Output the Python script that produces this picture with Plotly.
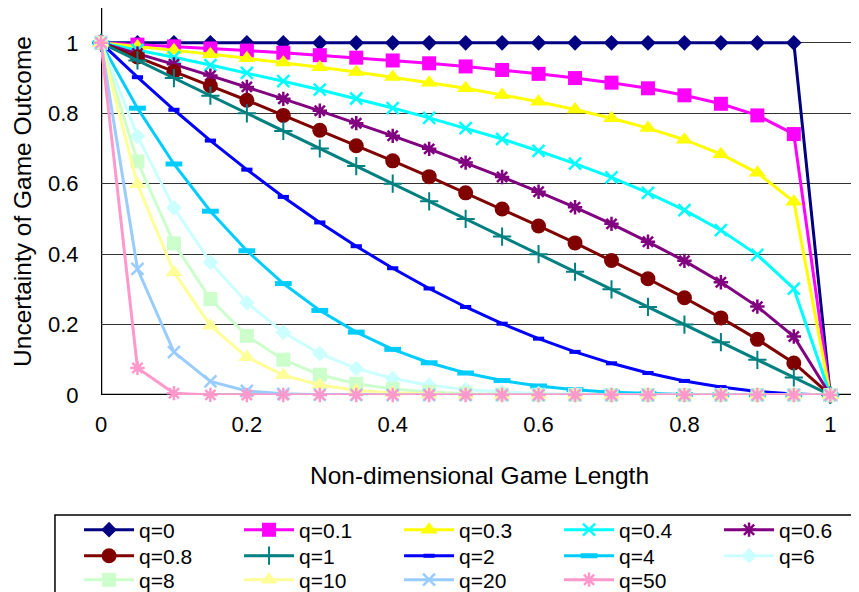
import plotly.graph_objects as go

x_vals = [0, 0.05, 0.1, 0.15, 0.2, 0.25, 0.3, 0.35, 0.4, 0.45, 0.5,
          0.55, 0.6, 0.65, 0.7, 0.75, 0.8, 0.85, 0.9, 0.95, 1]

q0 = [1, 1, 1, 1, 1, 1, 1, 1, 1, 1, 1, 1, 1, 1, 1, 1, 1, 1, 1, 1, 0]
q01 = [1, 0.995, 0.990, 0.984, 0.978, 0.972, 0.965, 0.958, 0.950, 0.942, 0.933,
       0.923, 0.912, 0.900, 0.887, 0.871, 0.851, 0.827, 0.794, 0.741, 0]
q03 = [1, 0.990, 0.979, 0.968, 0.956, 0.944, 0.931, 0.917, 0.903, 0.887, 0.871,
       0.852, 0.833, 0.811, 0.786, 0.758, 0.725, 0.684, 0.631, 0.549, 0]
q04 = [1, 0.980, 0.959, 0.937, 0.915, 0.891, 0.867, 0.842, 0.815, 0.787, 0.758,
       0.727, 0.693, 0.657, 0.618, 0.574, 0.525, 0.468, 0.398, 0.302, 0]
q06 = [1, 0.970, 0.939, 0.907, 0.875, 0.841, 0.807, 0.772, 0.736, 0.699, 0.660,
       0.619, 0.577, 0.533, 0.486, 0.435, 0.381, 0.320, 0.251, 0.166, 0]
q08 = [1, 0.960, 0.919, 0.878, 0.837, 0.794, 0.752, 0.708, 0.665, 0.620, 0.574,
       0.528, 0.480, 0.432, 0.382, 0.330, 0.276, 0.219, 0.158, 0.091, 0]
q1 = [1, 0.95, 0.90, 0.85, 0.80, 0.75, 0.70, 0.65, 0.60, 0.55, 0.50,
      0.45, 0.40, 0.35, 0.30, 0.25, 0.20, 0.15, 0.10, 0.05, 0]
q2 = [1, 0.9025, 0.81, 0.7225, 0.64, 0.5625, 0.49, 0.4225, 0.36, 0.3025, 0.25,
      0.2025, 0.16, 0.1225, 0.09, 0.0625, 0.04, 0.0225, 0.01, 0.0025, 0]
q4 = [1, 0.8145, 0.6561, 0.5220, 0.4096, 0.3164, 0.2401, 0.1785, 0.1296, 0.0915, 0.0625,
      0.0410, 0.0256, 0.0150, 0.0081, 0.0039, 0.0016, 0.0005, 0.0001, 0.0, 0]
q6 = [1, 0.7351, 0.5314, 0.3771, 0.2621, 0.1780, 0.1176, 0.0754, 0.0467, 0.0277, 0.0156,
      0.0083, 0.0041, 0.0018, 0.0007, 0.0002, 0.0001, 0, 0, 0, 0]
q8 = [1, 0.6634, 0.4305, 0.2725, 0.1678, 0.1001, 0.0576, 0.0319, 0.0168, 0.0084, 0.0039,
      0.0017, 0.0007, 0.0002, 0.0001, 0, 0, 0, 0, 0, 0]
q10 = [1, 0.5987, 0.3487, 0.1969, 0.1074, 0.0563, 0.0282, 0.0135, 0.0060, 0.0025, 0.0010,
       0.0003, 0.0001, 0, 0, 0, 0, 0, 0, 0, 0]
q20 = [1, 0.3585, 0.1216, 0.0388, 0.0115, 0.0032, 0.0008, 0.0002, 0, 0, 0,
       0, 0, 0, 0, 0, 0, 0, 0, 0, 0]
q50 = [1, 0.0769, 0.0052, 0.0003, 0, 0, 0, 0, 0, 0, 0,
       0, 0, 0, 0, 0, 0, 0, 0, 0, 0]

series_names = ["q=0", "q=0.1", "q=0.3", "q=0.4", "q=0.6", "q=0.8", "q=1",
                "q=2", "q=4", "q=6", "q=8", "q=10", "q=20", "q=50"]
series_values = [q0, q01, q03, q04, q06, q08, q1, q2, q4, q6, q8, q10, q20, q50]

tick_vals = [0, 0.2, 0.4, 0.6, 0.8, 1]
tick_text = ["0", "0.2", "0.4", "0.6", "0.8", "1"]

styles = [
    ("#000080", "diamond", 12, 0),
    ("#FF00FF", "square", 14, 0),
    ("#FFFF00", "triangle-up", 15, 0),
    ("#00FFFF", "x-thin-open", 12, 2.5),
    ("#800080", "asterisk-open", 12, 2.5),
    ("#800000", "circle", 15, 0),
    ("#008080", "cross-thin-open", 13, 2),
    ("#0000FF", "line-ew-open", 8, 4),
    ("#00CCFF", "line-ew-open", 12, 5),
    ("#CCFFFF", "diamond", 12, 0),
    ("#CCFFCC", "square", 14, 0),
    ("#FFFF99", "triangle-up", 15, 0),
    ("#99CCFF", "x-thin-open", 12, 2.5),
    ("#FF99CC", "asterisk-open", 12, 2.5),
]

FONT = "Liberation Sans"
legend_ids = ["legend"] * 5 + ["legend2"] * 5 + ["legend3"] * 4

fig = go.Figure()
for name, vals, (col, sym, size, lw), lg in zip(series_names, series_values, styles, legend_ids):
    marker = dict(symbol=sym, size=size, color=col)
    marker["line"] = dict(color=col, width=lw) if lw else dict(width=0)
    fig.add_trace(go.Scatter(
        x=x_vals, y=vals, name=name, mode="lines+markers",
        line=dict(color=col, width=3), marker=marker, cliponaxis=False,
        legend=lg,
    ))

def legend_row(y):
    return dict(
        orientation="h", x=-0.029, xanchor="left", y=y, yanchor="middle",
        entrywidth=95, entrywidthmode="pixels", itemwidth=50,
        font=dict(family=FONT, size=21, color="black"),
        bgcolor="rgba(0,0,0,0)", borderwidth=0, traceorder="normal",
        itemclick=False, itemdoubleclick=False,
    )

# page body adds an 8px offset; plot area in figure px: x 93..850, y 0..387
fig.update_layout(
    width=859, height=592,
    margin=dict(l=93, r=9, t=0, b=205, autoexpand=False),
    paper_bgcolor="white", plot_bgcolor="white",
    font=dict(family=FONT, size=22, color="black"),
    showlegend=True,
    legend=legend_row(-0.3489),
    legend2=legend_row(-0.4161),
    legend3=legend_row(-0.4781),
    xaxis=dict(
        range=[0, 1.038], tickvals=tick_vals, ticktext=tick_text,
        showgrid=False, zeroline=False, showline=False,
        ticks="outside", ticklen=10, tickcolor="rgba(0,0,0,0)",
        tickfont=dict(family=FONT, size=22),
        title=dict(text="Non-dimensional Game Length", standoff=30,
                   font=dict(family=FONT, size=24.5)),
        automargin=False,
    ),
    yaxis=dict(
        range=[0, 1.099], tickvals=tick_vals, ticktext=tick_text,
        showgrid=True, gridcolor="#333333", gridwidth=1,
        zeroline=False, showline=False,
        ticks="outside", ticklen=17, tickcolor="rgba(0,0,0,0)",
        tickfont=dict(family=FONT, size=22),
        title=dict(text="Uncertainty of Game Outcome", standoff=9,
                   font=dict(family=FONT, size=24.5)),
        automargin=False,
    ),
    shapes=[
        dict(type="line", xref="x", yref="paper", x0=0, x1=0, y0=0, y1=1,
             line=dict(color="black", width=2.5), layer="below"),
        dict(type="line", xref="paper", yref="y", x0=0, x1=1, y0=0, y1=0,
             line=dict(color="black", width=2.5), layer="below"),
        dict(type="rect", xref="paper", yref="paper",
             x0=-0.0608, x1=0.996, y0=-0.310, y1=-0.56,
             line=dict(color="black", width=1.5), fillcolor="rgba(0,0,0,0)"),
    ],
)

fig.write_html("out.html")
